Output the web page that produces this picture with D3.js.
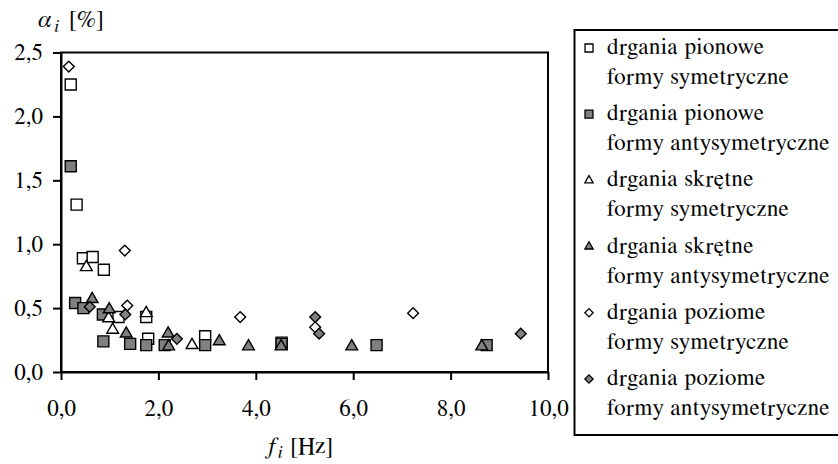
<!DOCTYPE html>
<html>
<head>
<meta charset="utf-8">
<script src="https://cdn.jsdelivr.net/npm/d3@7"></script>
</head>
<body style="margin:0">
<div id="chart"></div>
<script>

// drgania pionowe, formy symetryczne
var pionSymF = [0.20, 0.32, 0.45, 0.65, 0.88, 1.18, 1.75, 1.79, 2.96, 4.53];
var pionSymA = [2.25, 1.31, 0.89, 0.90, 0.80, 0.43, 0.43, 0.26, 0.28, 0.23];

// drgania pionowe, formy antysymetryczne
var pionAntF = [0.20, 0.29, 0.46, 0.86, 0.87, 1.42, 1.75, 2.13, 2.96, 4.53, 6.48, 8.74];
var pionAntA = [1.61, 0.54, 0.50, 0.45, 0.24, 0.22, 0.21, 0.21, 0.21, 0.22, 0.21, 0.21];

// drgania skretne, formy symetryczne
var skrSymF = [0.52, 0.98, 1.06, 1.75, 2.69];
var skrSymA = [0.82, 0.42, 0.33, 0.46, 0.21];

// drgania skretne, formy antysymetryczne
var skrAntF = [0.64, 0.99, 1.34, 2.20, 2.21, 3.25, 3.85, 4.52, 5.97, 8.64];
var skrAntA = [0.57, 0.49, 0.30, 0.30, 0.20, 0.24, 0.20, 0.20, 0.20, 0.20];

// drgania poziome, formy symetryczne
var pozSymF = [0.16, 1.31, 1.36, 3.68, 5.22, 7.23];
var pozSymA = [2.39, 0.95, 0.52, 0.43, 0.35, 0.46];

// drgania poziome, formy antysymetryczne
var pozAntF = [0.59, 1.32, 2.38, 5.22, 5.30, 9.44];
var pozAntA = [0.51, 0.45, 0.26, 0.43, 0.30, 0.30];

var seriesNames = [
    ["drgania pionowe", "formy symetryczne"],
    ["drgania pionowe", "formy antysymetryczne"],
    ["drgania skrętne", "formy symetryczne"],
    ["drgania skrętne", "formy antysymetryczne"],
    ["drgania poziome", "formy symetryczne"],
    ["drgania poziome", "formy antysymetryczne"]
];

var xTicks = [0, 2, 4, 6, 8, 10];
var yTicks = [0, 0.5, 1.0, 1.5, 2.0, 2.5];

var series = [
    { f: pionSymF, a: pionSymA, shape: "square", fill: "#fff" },
    { f: pionAntF, a: pionAntA, shape: "square", fill: "#808080" },
    { f: skrSymF, a: skrSymA, shape: "triangle", fill: "#fff" },
    { f: skrAntF, a: skrAntA, shape: "triangle", fill: "#808080" },
    { f: pozSymF, a: pozSymA, shape: "diamond", fill: "#fff" },
    { f: pozAntF, a: pozAntA, shape: "diamond", fill: "#808080" }
];

var FONT = "FreeSerif, 'Liberation Serif', 'Times New Roman', serif";
var width = 838, height = 464;
var margin = { top: 52.5, left: 61, right: 290, bottom: 92 };
var plotW = width - margin.left - margin.right;
var plotH = height - margin.top - margin.bottom;

var pl = d3.formatLocale({ decimal: ",", thousands: " ", grouping: [3], currency: ["", " zł"] });
var fmt = pl.format(".1f");

var svg = d3.select("#chart").append("svg")
    .attr("width", width).attr("height", height)
    .style("font-family", FONT);

var x = d3.scaleLinear().domain([0, 10]).range([margin.left, margin.left + plotW]);
var y = d3.scaleLinear().domain([0, 2.5]).range([margin.top + plotH, margin.top]);

// symbol generators, sizes are areas
function markerPath(shape, big) {
    if (shape === "square") return d3.symbol(d3.symbolSquare, big ? 121 : 64)();
    if (shape === "triangle") return d3.symbol(d3.symbolTriangle, big ? 60 : 30)();
    return d3.symbol(d3.symbolSquare, big ? 58 : 34)();
}

// plot frame
svg.append("rect")
    .attr("x", margin.left).attr("y", margin.top)
    .attr("width", plotW).attr("height", plotH)
    .attr("fill", "none").attr("stroke", "#000").attr("stroke-width", 2);

var xAxis = svg.append("g")
    .attr("transform", "translate(0," + (margin.top + plotH) + ")")
    .call(d3.axisBottom(x).tickValues(xTicks).tickFormat(fmt).tickSize(8).tickSizeOuter(0).tickPadding(20));

var yAxis = svg.append("g")
    .attr("transform", "translate(" + margin.left + ",0)")
    .call(d3.axisLeft(y).tickValues(yTicks).tickFormat(fmt).tickSize(8).tickSizeOuter(0).tickPadding(10));

[xAxis, yAxis].forEach(function (ax) {
    ax.select(".domain").attr("stroke-width", 2);
    ax.selectAll(".tick line").attr("stroke-width", 2);
    ax.selectAll("text").style("font-family", FONT).style("font-size", "23px").attr("fill", "#000");
});

// points
series.forEach(function (s) {
    var pts = s.f.map(function (f, i) { return { f: f, a: s.a[i] }; });
    svg.append("g").selectAll("path")
        .data(pts)
        .enter().append("path")
        .attr("d", markerPath(s.shape, true))
        .attr("transform", function (d) {
            return "translate(" + x(d.f) + "," + y(d.a) + ")" + (s.shape === "diamond" ? " rotate(45)" : "");
        })
        .attr("fill", s.fill)
        .attr("stroke", "#000")
        .attr("stroke-width", 1.4);
});

// axis titles
var yTitle = svg.append("text").attr("x", 38).attr("y", 27)
    .style("font-family", FONT).style("font-size", "24px");
yTitle.append("tspan").attr("font-style", "italic").text("α");
yTitle.append("tspan").attr("font-style", "italic").style("font-size", "17px").attr("dx", 3).attr("dy", 5).text("i");
yTitle.append("tspan").attr("dx", 10).attr("dy", -5).text("[%]");

var xTitle = svg.append("text").attr("x", 300).attr("y", 454).attr("text-anchor", "middle")
    .style("font-family", FONT).style("font-size", "24px");
xTitle.append("tspan").attr("font-style", "italic").text("f");
xTitle.append("tspan").attr("font-style", "italic").style("font-size", "17px").attr("dx", 1).attr("dy", 4).text("i");
xTitle.append("tspan").attr("dx", 8).attr("dy", -4).text("[Hz]");

// legend
var legend = svg.append("g");
legend.append("rect")
    .attr("x", 574.5).attr("y", 30).attr("width", 280).attr("height", 405)
    .attr("fill", "none").attr("stroke", "#000").attr("stroke-width", 2);

series.forEach(function (s, i) {
    var base = 54 + i * 66.2;
    legend.append("path")
        .attr("d", markerPath(s.shape, false))
        .attr("transform", "translate(589," + (base - 6) + ")" + (s.shape === "diamond" ? " rotate(45)" : ""))
        .attr("fill", s.fill)
        .attr("stroke", "#000")
        .attr("stroke-width", 1.3);
    legend.append("text")
        .attr("x", 607).attr("y", base)
        .style("font-family", FONT).style("font-size", "23px").style("letter-spacing", "0.6px")
        .text(seriesNames[i][0]);
    legend.append("text")
        .attr("x", 607).attr("y", base + 30)
        .style("font-family", FONT).style("font-size", "23px").style("letter-spacing", "0.6px")
        .text(seriesNames[i][1]);
});

</script>
</body>
</html>
